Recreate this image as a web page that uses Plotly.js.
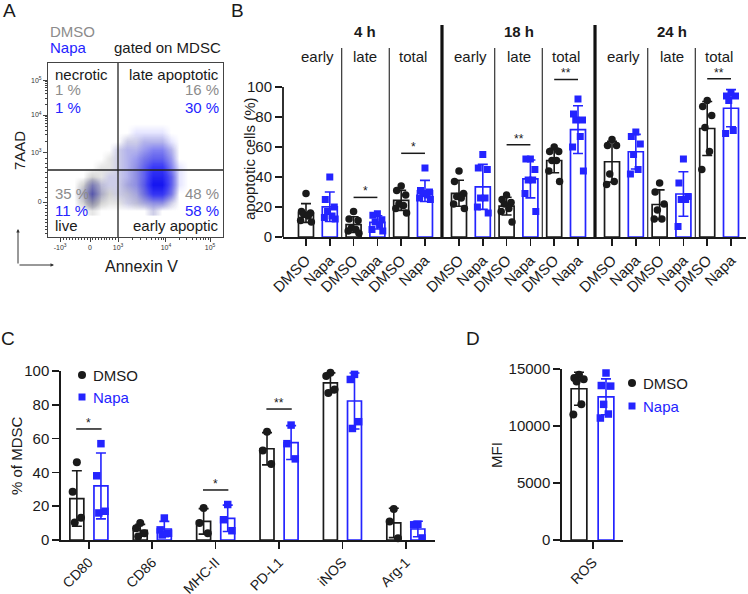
<!DOCTYPE html>
<html>
<head>
<meta charset="utf-8">
<script src="https://cdn.plot.ly/plotly-3.0.1.min.js"></script>
<style>body{margin:0;background:#fff}#plot{width:748px;height:594px}</style>
</head>
<body>
<div id="plot"></div>
<script>
// ---- panel A: flow plot (density read by eye, per grid cell) ----
let aQuadNames = ["necrotic", "late apoptotic", "live", "early apoptic"]
let aDmsoPct = [1, 16, 35, 48]
let aNapaPct = [1, 30, 11, 58]
let aGridX = [150, 200, 250, 300, 350, 400, 450, 500, 550, 600, 650, 700, 750, 800]
let aGridY = [150, 200, 250, 300, 350, 400, 450, 500, 550, 600, 650]
let aGrey = [
  [0, 0, 1, 0, 0, 0, 0, 0, 0, 1, 0, 0, 0, 0],
  [0, 2, 6, 2, 1, 1, 1, 2, 2, 2, 2, 1, 0, 0],
  [0, 3, 9, 3, 2, 1, 2, 2, 3, 3, 3, 2, 0, 0],
  [0, 2, 6, 2, 1, 1, 2, 2, 3, 3, 3, 2, 0, 0],
  [0, 0, 2, 1, 1, 1, 1, 2, 2, 3, 3, 2, 0, 0],
  [0, 0, 0, 1, 1, 1, 1, 2, 2, 2, 2, 1, 0, 0],
  [0, 0, 0, 0, 1, 1, 1, 1, 2, 2, 2, 1, 0, 0],
  [0, 0, 0, 0, 0, 1, 1, 1, 1, 1, 1, 1, 0, 0],
  [0, 0, 0, 0, 0, 0, 1, 1, 1, 1, 1, 0, 0, 0],
  [0, 0, 0, 0, 0, 0, 0, 0, 0, 0, 0, 0, 0, 0],
  [0, 0, 0, 0, 0, 0, 0, 0, 0, 0, 0, 0, 0, 0]
]
let aBlue = [
  [0, 0, 0, 0, 0, 0, 0, 0, 0, 1, 0, 0, 0, 0],
  [0, 0, 1, 0, 0, 0, 1, 1, 2, 3, 3, 1, 0, 0],
  [0, 1, 3, 1, 0, 1, 1, 2, 4, 7, 7, 4, 0, 0],
  [0, 0, 2, 1, 1, 1, 2, 3, 5, 9, 9, 5, 1, 0],
  [0, 0, 0, 0, 1, 1, 2, 3, 5, 8, 8, 5, 1, 0],
  [0, 0, 0, 0, 0, 1, 2, 3, 5, 7, 7, 4, 1, 0],
  [0, 0, 0, 0, 0, 1, 2, 3, 4, 5, 5, 3, 0, 0],
  [0, 0, 0, 0, 0, 1, 2, 2, 3, 4, 4, 2, 0, 0],
  [0, 0, 0, 0, 0, 0, 1, 1, 2, 2, 2, 1, 0, 0],
  [0, 0, 0, 0, 0, 0, 0, 1, 1, 1, 1, 0, 0, 0],
  [0, 0, 0, 0, 0, 0, 0, 0, 0, 0, 0, 0, 0, 0]
]

// ---- panel B: apoptotic cells (%), one list per time/phase group ----
let timepoints = ["4 h", "18 h", "24 h"]
let phases = ["early", "late", "total"]
let treatments = ["DMSO", "Napa"]
let bDmso = [
  [29, 17, 16, 15, 14, 11, 10],
  [17, 12, 11, 6, 5, 4, 2.5],
  [34, 31, 28, 22, 21, 19, 16],
  [44, 37, 29, 27, 26, 22, 19],
  [28, 25, 23, 22, 19, 17, 10],
  [60, 57, 57, 51, 51, 44, 37],
  [65, 61, 61, 42, 37, 35],
  [36, 30, 22, 18, 12, 12],
  [91, 87, 81, 73, 57, 45]
]
let bNapa = [
  [40, 25, 20, 17, 14, 13, 12],
  [15.5, 14.5, 11.5, 10, 8, 5, 4],
  [46, 31, 30, 29, 28, 26, 25],
  [55, 46, 45, 26, 26, 20, 16],
  [52, 52, 45, 38, 38, 29, 17],
  [92, 82, 78, 78, 67, 60, 44],
  [70, 67, 62, 55, 45, 42],
  [52, 36, 27, 25, 25, 7],
  [96, 94, 94, 91, 71, 69]
]
// significance: group index, label, bar height
let bSigGroup = [1, 2, 4, 5, 8]
let bSigText = ["*", "*", "**", "**", "**"]
let bSigY = [26.4, 55.8, 61.5, 105, 105.5]

// ---- panel C: % of MDSC ----
let cMarkers = ["CD80", "CD86", "MHC-II", "PD-L1", "iNOS", "Arg-1"]
let cDmso = [
  [46, 28.6, 13.2, 10.3],
  [10, 7, 4, 2],
  [19, 10, 4],
  [64, 53, 45],
  [99, 97, 89, 87],
  [18.3, 11, 1]
]
let cNapa = [
  [57, 38, 17, 16],
  [13, 6, 4, 3],
  [21, 12, 5.5],
  [68, 57, 48],
  [98, 95, 70, 66],
  [9.3, 9, 1.2]
]
let cSigGroup = [0, 2, 3]
let cSigText = ["*", "*", "**"]
let cSigY = [65.7, 29.6, 77.5]

// ---- panel D: ROS MFI ----
let dLabel = ["ROS"]
let dDmso = [[14500, 14200, 14100, 13900, 11900, 11000]]
let dNapa = [[14650, 13550, 13500, 11900, 11050, 10700]]

// ---- helpers ----
const W = 748, H = 594
const fx = p => p / W
const fy = p => 1 - p / H
const black = '#1a1a1a', blue = '#2424ff', grey = '#8c8c8c'
const font = 'Arial, "Liberation Sans", sans-serif'
const spread = [0, -0.3, 0.3, -0.15, 0.15, -0.36, 0.36]

function mean(a) { return a.reduce((s, v) => s + v, 0) / a.length }
function sd(a) {
  let m = mean(a)
  return Math.sqrt(a.reduce((s, v) => s + (v - m) * (v - m), 0) / (a.length - 1))
}

function groupTraces(xs, groups, color, symbol, ax, barW, size) {
  let bar = {
    type: 'bar', x: xs, y: groups.map(mean), width: barW,
    marker: {color: 'rgba(255,255,255,0)', line: {color: color, width: 1.7}},
    error_y: {type: 'data', array: groups.map(sd), color: color, thickness: 1.6, width: 5},
    xaxis: 'x' + ax, yaxis: 'y' + ax, hoverinfo: 'skip', showlegend: false
  }
  let ptx = [], pty = []
  groups.forEach((g, i) => g.forEach((v, j) => {
    ptx.push(xs[i] + spread[j % spread.length] * barW)
    pty.push(v)
  }))
  let pts = {
    type: 'scatter', mode: 'markers', x: ptx, y: pty,
    marker: {color: color, symbol: symbol, size: size, line: {width: 0}},
    xaxis: 'x' + ax, yaxis: 'y' + ax, hoverinfo: 'skip', showlegend: false, cliponaxis: false
  }
  return [bar, pts]
}

let data = []
let shapes = []
let annotations = []

function ann(text, x, y, opt) {
  annotations.push(Object.assign({
    text: text, xref: 'paper', yref: 'paper', x: fx(x), y: fy(y),
    showarrow: false, xanchor: 'center', yanchor: 'middle',
    font: {family: font, size: 15, color: black}
  }, opt || {}))
}

// ---- A ----
let heatBase = {type: 'heatmap', x: aGridX, y: aGridY, zsmooth: 'best', zmin: 0, zmax: 9,
  showscale: false, hoverinfo: 'skip', xaxis: 'x', yaxis: 'y'}
data.push(Object.assign({}, heatBase, {z: aGrey,
  colorscale: [[0, 'rgba(150,150,150,0)'], [0.11, 'rgba(150,150,150,0.25)'], [0.35, 'rgba(140,140,140,0.6)'], [1, 'rgba(115,115,115,0.95)']]}))
data.push(Object.assign({}, heatBase, {z: aBlue,
  colorscale: [[0, 'rgba(30,30,255,0)'], [0.11, 'rgba(30,30,255,0.12)'], [0.35, 'rgba(30,30,255,0.4)'], [0.7, 'rgba(30,30,255,0.8)'], [1, 'rgba(20,20,240,1)']]}))

shapes.push({type: 'line', xref: 'x', yref: 'y', x0: 400, x1: 400, y0: 0, y1: 1000, line: {color: '#222', width: 1.3}})
shapes.push({type: 'line', xref: 'x', yref: 'y', x0: 0, x1: 1000, y0: 385, y1: 385, line: {color: '#222', width: 1.3}})

let aMinorX = []
for (let k = -9; k <= 9; k++) if (k) aMinorX.push(k < 0 ? 240 + k * 17.1 : 240 + k * 16)
for (let k = 2; k <= 9; k++) { aMinorX.push(400 + 274 * Math.log10(k)); aMinorX.push(674 + 252 * Math.log10(k)) }
let aMinorY = []
for (let k = 1; k <= 9; k++) { aMinorY.push(201 - k * 20); aMinorY.push(201 + k * 28) }
for (let k = 2; k <= 9; k++) { aMinorY.push(483 + 218 * Math.log10(k)); aMinorY.push(701 + 201 * Math.log10(k)) }

ann('DMSO', 48, 32, {xanchor: 'left', font: {family: font, size: 15, color: grey}})
ann('Napa', 48, 48, {xanchor: 'left', font: {family: font, size: 15, color: blue}})
ann('gated on MDSC', 223, 48, {xanchor: 'right'})
let qx = [53, 221, 53, 221], qa = ['left', 'right', 'left', 'right']
aQuadNames.forEach((n, i) => {
  let top = i < 2
  let yName = top ? 74 : 226, yD = top ? 90 : 193, yN = top ? 107 : 210
  ann(n, qx[i], yName, {xanchor: qa[i]})
  ann(aDmsoPct[i] + ' %', qx[i], yD, {xanchor: qa[i], font: {family: font, size: 15, color: grey}})
  ann(aNapaPct[i] + ' %', qx[i], yN, {xanchor: qa[i], font: {family: font, size: 15, color: blue}})
})
ann('7AAD', 19, 151, {textangle: -90})
ann('Annexin V', 141, 266, {font: {family: font, size: 16, color: black}})
// corner arrows
annotations.push({text: '', xref: 'paper', yref: 'paper', x: fx(18), y: fy(229), ax: 0, ay: 36,
  showarrow: true, arrowhead: 2, arrowsize: 0.7, arrowwidth: 1, arrowcolor: '#333'})
annotations.push({text: '', xref: 'paper', yref: 'paper', x: fx(54), y: fy(265), ax: -36, ay: 0,
  showarrow: true, arrowhead: 2, arrowsize: 0.7, arrowwidth: 1, arrowcolor: '#333'})

// ---- B ----
const gGap = 6.43
let bx = [], bTickX = [], bTickText = []
timepoints.forEach((t, g) => phases.forEach((p, s) => {
  bx.push(g * gGap + s * 2)
  treatments.forEach((tr, k) => { bTickX.push(g * gGap + s * 2 + k); bTickText.push(tr) })
}))
data.push(...groupTraces(bx, bDmso, black, 'circle', 2, 0.63, 7.5))
data.push(...groupTraces(bx.map(v => v + 1), bNapa, blue, 'square', 2, 0.63, 7))

const bTop = 141.33
shapes.push({type: 'line', xref: 'x2 domain', yref: 'y2', x0: 0, x1: 0, y0: 0, y1: 100, line: {color: black, width: 1.8}})
timepoints.forEach((t, g) => {
  if (g > 0) {
    let xd = g * gGap - (gGap - 5) / 2
    shapes.push({type: 'line', xref: 'x2', yref: 'y2', x0: xd, x1: xd, y0: 0, y1: bTop, line: {color: '#111', width: 3.2}})
  }
  for (let s = 0; s < 2; s++) {
    let xd = g * gGap + s * 2 + 1.5
    shapes.push({type: 'line', xref: 'x2', yref: 'y2', x0: xd, x1: xd, y0: 0, y1: 126, line: {color: '#333', width: 1.2}})
  }
  annotations.push({text: '<b>' + t + '</b>', xref: 'x2', yref: 'paper', x: g * gGap + 2.5, y: fy(32),
    xanchor: 'center', yanchor: 'middle', showarrow: false, font: {family: font, size: 15, color: black}})
  phases.forEach((p, s) => annotations.push({text: p, xref: 'x2', yref: 'paper', x: g * gGap + s * 2 + 0.5, y: fy(57),
    xanchor: 'center', yanchor: 'middle', showarrow: false, font: {family: font, size: 15, color: black}}))
})
bSigGroup.forEach((gi, i) => {
  shapes.push({type: 'line', xref: 'x2', yref: 'y2', x0: bx[gi], x1: bx[gi] + 1, y0: bSigY[i], y1: bSigY[i], line: {color: black, width: 1.5}})
  annotations.push({text: bSigText[i], xref: 'x2', yref: 'y2', x: bx[gi] + 0.5, y: bSigY[i], xanchor: 'center', yanchor: 'bottom', yshift: -3,
    showarrow: false, font: {family: font, size: 12, color: black}})
})
ann('apoptotic cells (%)', 249, 159, {textangle: -90})

// ---- C ----
let cx = cMarkers.map((m, i) => i)
data.push(...groupTraces(cx.map(v => v - 0.19), cDmso, black, 'circle', 3, 0.22, 8))
data.push(...groupTraces(cx.map(v => v + 0.19), cNapa, blue, 'square', 3, 0.22, 7.5))
cSigGroup.forEach((gi, i) => {
  shapes.push({type: 'line', xref: 'x3', yref: 'y3', x0: gi - 0.2, x1: gi + 0.2, y0: cSigY[i], y1: cSigY[i], line: {color: black, width: 1.5}})
  annotations.push({text: cSigText[i], xref: 'x3', yref: 'y3', x: gi, y: cSigY[i], xanchor: 'center', yanchor: 'bottom', yshift: -3,
    showarrow: false, font: {family: font, size: 12, color: black}})
})
ann('% of MDSC', 17, 456, {textangle: -90})
shapes.push({type: 'circle', xref: 'paper', yref: 'paper', x0: fx(78), x1: fx(86), y0: fy(379), y1: fy(371), fillcolor: black, line: {width: 0}})
shapes.push({type: 'rect', xref: 'paper', yref: 'paper', x0: fx(78.5), x1: fx(85.5), y0: fy(400.5), y1: fy(393.5), fillcolor: blue, line: {width: 0}})
ann('DMSO', 91, 375, {xanchor: 'left'})
ann('Napa', 91, 397, {xanchor: 'left', font: {family: font, size: 15, color: blue}})

// ---- D ----
data.push(...groupTraces([-0.32], dDmso, black, 'circle', 4, 0.36, 8))
data.push(...groupTraces([0.3], dNapa, blue, 'square', 4, 0.36, 7.5))
ann('MFI', 496, 455, {textangle: -90})
shapes.push({type: 'circle', xref: 'paper', yref: 'paper', x0: fx(628), x1: fx(636), y0: fy(387), y1: fy(379), fillcolor: black, line: {width: 0}})
shapes.push({type: 'rect', xref: 'paper', yref: 'paper', x0: fx(628.5), x1: fx(635.5), y0: fy(409.5), y1: fy(402.5), fillcolor: blue, line: {width: 0}})
ann('DMSO', 641, 383, {xanchor: 'left'})
ann('Napa', 641, 406, {xanchor: 'left', font: {family: font, size: 15, color: blue}})

// panel letters
ann('A', 9, 11, {font: {family: font, size: 19, color: black}})
ann('B', 237, 11, {font: {family: font, size: 19, color: black}})
ann('C', 8, 338, {font: {family: font, size: 19, color: black}})
ann('D', 473, 338, {font: {family: font, size: 19, color: black}})

function axis(extra) {
  return Object.assign({showgrid: false, zeroline: false, showline: true, linecolor: black, linewidth: 1.7,
    ticks: 'outside', ticklen: 7, tickwidth: 1.6, tickcolor: black,
    tickfont: {family: font, size: 15, color: black}, fixedrange: true}, extra)
}

let layout = {
  width: W, height: H,
  margin: {l: 0, r: 0, t: 0, b: 0},
  paper_bgcolor: 'white', plot_bgcolor: 'rgba(0,0,0,0)',
  barmode: 'overlay', showlegend: false,
  font: {family: font, color: black},
  xaxis: axis({domain: [fx(48), fx(223)], range: [0, 1000], anchor: 'y', mirror: true, linewidth: 1, linecolor: '#444',
    tickvals: [69, 240, 400, 674, 926], ticktext: ['-10<sup>3</sup>', '0', '10<sup>3</sup>', '10<sup>4</sup>', '10<sup>5</sup>'],
    tickfont: {family: font, size: 7, color: '#333'}, ticklen: 4, tickwidth: 1, tickcolor: '#444',
    minor: {tickvals: aMinorX, ticks: 'outside', ticklen: 2, tickwidth: 1, tickcolor: '#444'}}),
  yaxis: axis({domain: [fy(237), fy(63)], range: [0, 1000], anchor: 'x', mirror: true, linewidth: 1, linecolor: '#444',
    tickvals: [201, 483, 701, 902], ticktext: ['0', '10<sup>3</sup>', '10<sup>4</sup>', '10<sup>5</sup>'],
    tickfont: {family: font, size: 7, color: '#333'}, ticklen: 4, tickwidth: 1, tickcolor: '#444',
    minor: {tickvals: aMinorY, ticks: 'outside', ticklen: 2, tickwidth: 1, tickcolor: '#444'}}),
  xaxis2: axis({domain: [fx(283), fx(746)], range: [-0.966, 18.49], anchor: 'y2',
    tickvals: bTickX, ticktext: bTickText, tickangle: -45, tickfont: {family: font, size: 15, color: black}}),
  yaxis2: axis({domain: [fy(237), fy(25)], range: [0, bTop], anchor: 'x2', showline: false,
    tickvals: [0, 20, 40, 60, 80, 100]}),
  xaxis3: axis({domain: [fx(61), fx(435)], range: [-0.44, 5.46], anchor: 'y3',
    tickvals: cx, ticktext: cMarkers, tickangle: -45, tickfont: {family: font, size: 14, color: black}}),
  yaxis3: axis({domain: [fy(540), fy(371)], range: [0, 100], anchor: 'x3', tickvals: [0, 20, 40, 60, 80, 100]}),
  xaxis4: axis({domain: [fx(562), fx(623)], range: [-0.71, 0.69], anchor: 'y4',
    tickvals: [0], ticktext: dLabel, tickangle: -45, tickfont: {family: font, size: 14, color: black}}),
  yaxis4: axis({domain: [fy(540), fy(369)], range: [0, 15000], anchor: 'x4', tickvals: [0, 5000, 10000, 15000], tickformat: 'd'}),
  shapes: shapes,
  annotations: annotations
}

Plotly.newPlot('plot', data, layout, {staticPlot: true, displayModeBar: false})
</script>
</body>
</html>
